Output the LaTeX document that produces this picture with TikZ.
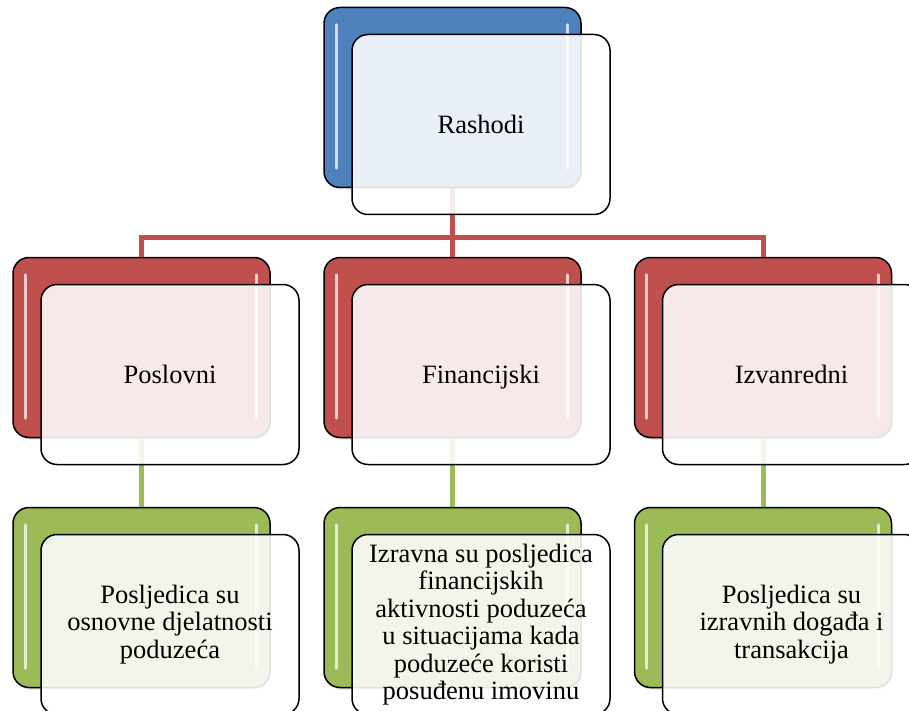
\documentclass[tikz,border=0pt]{standalone}
\usepackage{fontspec}
\setmainfont{Liberation Serif}
\usetikzlibrary{shadows}
\definecolor{cblue}{HTML}{4F81BD}
\definecolor{cred}{HTML}{C0504D}
\definecolor{cgreen}{HTML}{9BBB59}
\tikzset{
 backbox/.style={draw=black, line width=1.5pt, rounded corners=16pt, minimum width=257pt, minimum height=180pt, inner sep=0pt, fill=#1, drop shadow={opacity=0.25,shadow xshift=1pt,shadow yshift=-2pt}},
 frontbox/.style={draw=black, line width=1.5pt, rounded corners=16pt, minimum width=258pt, minimum height=180pt, inner sep=0pt, fill=white, fill opacity=0.88, text opacity=1, align=center, font=\fontsize{26.5}{27.5}\selectfont},
 oneline/.style={text depth=0pt},
 gloss/.style={line width=3pt, line cap=round, draw=white!72!#1},
 link/.style={line width=5pt, draw=#1},
}
\newcommand{\glossy}[2]{%
 \draw[gloss=#2] ([xshift=13pt,yshift=-18pt]#1.north west) -- ([xshift=13pt,yshift=20pt]#1.south west);
 \draw[gloss=#2] ([xshift=-14pt,yshift=-18pt]#1.north east) -- ([xshift=-14pt,yshift=20pt]#1.south east);
}
\begin{document}
\begin{tikzpicture}[x=1pt,y=-1pt]
\useasboundingbox (0,0) rectangle (909,711);
% back boxes
\node[backbox=cblue] (tb) at (452.5,97.5) {};
\node[backbox=cred] (b1) at (141.5,347.5) {};
\node[backbox=cred] (b2) at (452.5,347.5) {};
\node[backbox=cred] (b3) at (763,347.5) {};
\node[backbox=cgreen] (c1) at (141.5,597.5) {};
\node[backbox=cgreen] (c2) at (452.5,597.5) {};
\node[backbox=cgreen] (c3) at (763,597.5) {};
\glossy{tb}{cblue}
\glossy{b1}{cred}
\glossy{b2}{cred}
\glossy{b3}{cred}
\glossy{c1}{cgreen}
\glossy{c2}{cgreen}
\glossy{c3}{cgreen}
% connectors
\coordinate (j) at (452.5,237);
\draw[link=cred] (tb.south) -- (b2.north);
\draw[link=cred] (b1.north) |- (j) -| (b3.north);
\draw[link=cgreen] (b1.south) -- (c1.north);
\draw[link=cgreen] (b2.south) -- (c2.north);
\draw[link=cgreen] (b3.south) -- (c3.north);
% front boxes
\node[frontbox,oneline] (tf) at (481,124.5) {Rashodi};
\node[frontbox,oneline] (f1) at (170,374.5) {Poslovni};
\node[frontbox,oneline] (f2) at (481,374.5) {Financijski};
\node[frontbox,oneline] (f3) at (791.5,374.5) {Izvanredni};
\node[frontbox] (g1) at (170,624.5) {Posljedica su\\osnovne djelatnosti\\poduzeća};
\node[frontbox] (g2) at (481,624.5) {Izravna su posljedica\\financijskih\\aktivnosti poduzeća\\u situacijama kada\\poduzeće koristi\\posuđenu imovinu};
\node[frontbox] (g3) at (791.5,624.5) {Posljedica su\\izravnih događa i\\transakcija};
\end{tikzpicture}
\end{document}
